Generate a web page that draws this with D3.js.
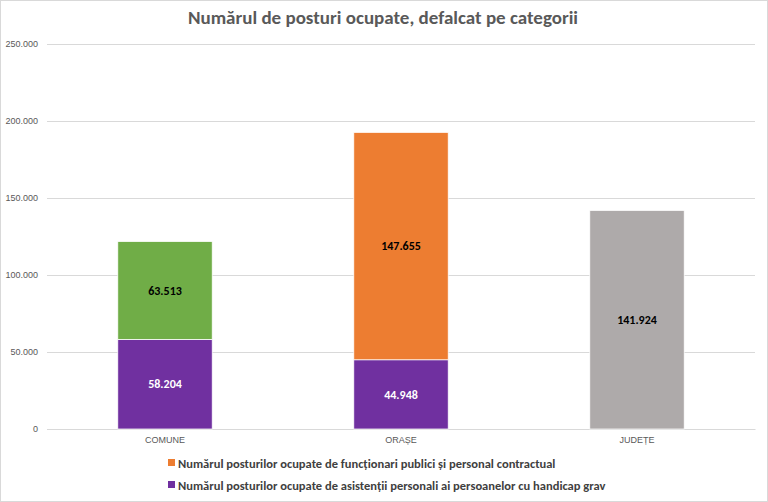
<!DOCTYPE html>
<html>
<head>
<meta charset="utf-8">
<script src="https://cdn.jsdelivr.net/npm/d3@7"></script>
<style>
  body { margin: 0; background: #fff; }
  svg { display: block; font-family: Carlito, "Liberation Sans Narrow", "Open Sans", sans-serif; }
</style>
</head>
<body>
<svg id="chart"></svg>
<script>
// categories and values
const categories = ["COMUNE", "ORAȘE", "JUDEȚE"];
const asistenti = [58204, 44948, 0];
const functionari = [63513, 147655, 141924];
const topColors = ["#70AD47", "#ED7D31", "#AEAAAA"];
const yTicks = [0, 50000, 100000, 150000, 200000, 250000];
const legendLabels = [
  "Numărul posturilor ocupate de funcționari publici și personal contractual",
  "Numărul posturilor ocupate de asistenții personali ai persoanelor cu handicap grav"
];

const width = 768, height = 502;
const margin = { top: 44, right: 13, bottom: 73, left: 47 };

const svg = d3.select("#chart")
  .attr("width", width)
  .attr("height", height);

// chart border
svg.append("rect")
  .attr("x", 0.5).attr("y", 0.5)
  .attr("width", width - 1).attr("height", height - 1)
  .attr("fill", "#fff")
  .attr("stroke", "#d9d9d9");

const ro = d3.formatLocale({ decimal: ",", thousands: ".", grouping: [3], currency: ["", ""] });
const fmt = ro.format(",d");

const x = d3.scaleBand()
  .domain(categories)
  .range([margin.left, width - margin.right])
  .paddingInner(0.6)
  .paddingOuter(0.3);

const y = d3.scaleLinear()
  .domain([0, 250000])
  .range([height - margin.bottom, margin.top]);

// title
svg.append("text")
  .attr("x", width / 2 - 1)
  .attr("y", 24)
  .attr("text-anchor", "middle")
  .attr("font-size", 19)
  .attr("font-weight", "bold")
  .attr("fill", "#595959")
  .text("Numărul de posturi ocupate, defalcat pe categorii");

// gridlines + y axis
const yAxis = d3.axisLeft(y)
  .tickValues(yTicks)
  .tickFormat(fmt)
  .tickSize(-(width - margin.left - margin.right))
  .tickPadding(9);

const gy = svg.append("g")
  .attr("transform", `translate(${margin.left},0)`)
  .call(yAxis);
gy.select(".domain").remove();
gy.selectAll(".tick line").attr("stroke", "#d9d9d9");
gy.selectAll(".tick text")
  .attr("fill", "#595959")
  .attr("font-size", 9);

// x axis
const xAxis = d3.axisBottom(x).tickSize(0).tickPadding(8);
const gx = svg.append("g")
  .attr("transform", `translate(0,${y(0)})`)
  .call(xAxis);
gx.select(".domain").attr("stroke", "#d9d9d9");
gx.selectAll(".tick text")
  .attr("fill", "#595959")
  .attr("font-size", 9);

// stacked segments
const rows = categories.map((c, i) => ({
  cat: c,
  asist: asistenti[i],
  func: functionari[i],
  color: topColors[i]
}));

const segs = [];
rows.forEach(r => {
  if (r.asist > 0) segs.push({ cat: r.cat, y0: 0, y1: r.asist, v: r.asist, color: "#7030A0", label: "#fff" });
  segs.push({ cat: r.cat, y0: r.asist, y1: r.asist + r.func, v: r.func, color: r.color, label: "#000" });
});

svg.selectAll("rect.seg")
  .data(segs)
  .enter()
  .append("rect")
  .attr("class", "seg")
  .attr("x", d => x(d.cat))
  .attr("y", d => y(d.y1))
  .attr("width", x.bandwidth())
  .attr("height", d => y(d.y0) - y(d.y1))
  .attr("fill", d => d.color)
  .attr("stroke", "#fff")
  .attr("stroke-width", 0.75);

svg.selectAll("text.val")
  .data(segs)
  .enter()
  .append("text")
  .attr("class", "val")
  .attr("x", d => x(d.cat) + x.bandwidth() / 2)
  .attr("y", d => (y(d.y0) + y(d.y1)) / 2)
  .attr("dy", "0.35em")
  .attr("text-anchor", "middle")
  .attr("font-size", 12)
  .attr("font-weight", "bold")
  .attr("fill", d => d.label)
  .text(d => fmt(d.v));

// legend
const legendColors = ["#ED7D31", "#7030A0"];
const lg = svg.append("g").attr("transform", "translate(168,464)");
legendLabels.forEach((t, i) => {
  const g = lg.append("g").attr("transform", `translate(0,${i * 22})`);
  g.append("rect")
    .attr("x", 0).attr("y", -5)
    .attr("width", 7).attr("height", 7)
    .attr("fill", legendColors[i]);
  g.append("text")
    .attr("x", 10)
    .attr("y", 0)
    .attr("dy", "0.32em")
    .attr("font-size", 12.5)
    .attr("font-weight", "bold")
    .attr("fill", "#404040")
    .text(t);
});
</script>
</body>
</html>
